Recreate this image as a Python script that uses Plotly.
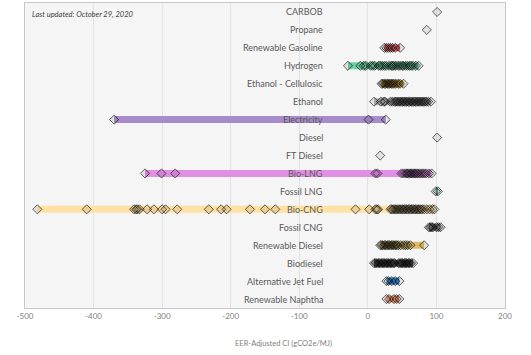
import plotly.graph_objects as go

# ---- data (EER-adjusted CI, gCO2e/MJ) ----
categories = ["CARBOB", "Propane", "Renewable Gasoline", "Hydrogen", "Ethanol - Cellulosic",
              "Ethanol", "Electricity", "Diesel", "FT Diesel", "Bio-LNG", "Fossil LNG",
              "Bio-CNG", "Fossil CNG", "Renewable Diesel", "Biodiesel",
              "Alternative Jet Fuel", "Renewable Naphtha"]

carbob = [101]
propane = [86]
renewable_gasoline = [24, 27, 30, 33, 36, 40, 47]
hydrogen = [-29, -11, -6, -3, 4, 7, 10, 16, 18, 21, 24, 27, 31, 34, 36, 38, 41, 44, 47, 50,
            52, 55, 58, 61, 63, 66, 70, 74]
ethanol_cellulosic = [20, 22, 24, 26, 28, 30, 32, 34, 36, 38, 41, 44, 47, 52]
ethanol = [9, 19, 23, 25, 33, 36, 39, 41, 43, 45, 47, 49, 51, 53, 55, 57, 59, 61, 63, 65, 67,
           69, 71, 73, 75, 77, 79, 81, 83, 85, 88, 92]
electricity = [-370, 1, 26]
diesel = [101]
ft_diesel = [18]
bio_lng = [-325, -301, -281, 11, 14, 49, 52, 55, 57, 59, 61, 63, 65, 67, 69, 71, 73, 76, 79,
           82, 85, 89, 93]
fossil_lng = [99, 102]
bio_cng = [-482, -410, -341, -338, -336, -333, -322, -312, -300, -295, -278, -232, -214, -206,
           -172, -150, -135, -18, 2, 11, 13, 15, 33, 35, 37, 39, 41, 43, 45, 47, 49, 51, 53, 55,
           57, 59, 61, 63, 65, 67, 69, 71, 73, 75, 77, 79, 82, 86, 90, 94, 97]
fossil_cng = [89, 91, 93, 95, 100, 103, 106]
renewable_diesel = [18, 20, 22, 24, 26, 28, 30, 32, 34, 36, 38, 40, 42, 44, 48, 52, 55, 58, 62, 82]
biodiesel = [9, 11, 13, 15, 17, 19, 21, 23, 25, 27, 29, 31, 33, 35, 37, 39, 45, 47, 49, 51, 53,
             55, 57, 59, 61, 63, 66]
alt_jet_fuel = [27, 30, 35, 40, 46]
renewable_naphtha = [27, 31, 38, 42, 46]

series = [carbob, propane, renewable_gasoline, hydrogen, ethanol_cellulosic, ethanol,
          electricity, diesel, ft_diesel, bio_lng, fossil_lng, bio_cng, fossil_cng,
          renewable_diesel, biodiesel, alt_jet_fuel, renewable_naphtha]

band_colors = [None, None, "#e46d6d", "#6fd3a3", "#c9a43c", "#b5b5b5", "#a88bca", None, None,
               "#df90e2", "#2e9d72", "#ffe1a3", "#8a8a8a", "#d9bd6a", "#6a6a6a",
               "#3a87c9", "#ef9c75"]

x_ticks = [-500, -400, -300, -200, -100, 0, 100, 200]
x_tick_labels = ["-500", "-400", "-300", "-200", "-100", "0", "100", "200"]

fig = go.Figure()

for i, (vals, col) in enumerate(zip(series, band_colors)):
    if col is not None and len(vals) > 1:
        fig.add_trace(go.Scatter(
            x=[min(vals), max(vals)], y=[i, i], mode="lines",
            line=dict(color=col, width=7), hoverinfo="skip", showlegend=False))
    fig.add_trace(go.Scatter(
        x=vals, y=[i] * len(vals), mode="markers", showlegend=False,
        marker=dict(symbol="diamond", size=7,
                    color="rgba(0,0,0,0.08)",
                    line=dict(color="rgba(0,0,0,0.6)", width=1))))

for i, name in enumerate(categories):
    fig.add_annotation(x=-63, y=i, xref="x", yref="y", text=name, showarrow=False,
                       xanchor="right", yanchor="middle",
                       font=dict(family="Lato", size=9, color="#595959"))

fig.add_annotation(x=0.01, y=0.985, xref="paper", yref="paper", xanchor="left", yanchor="top",
                   text="<i>Last updated: October 29, 2020</i>", showarrow=False,
                   font=dict(family="Lato", size=7.5, color="#404040"))

fig.add_annotation(x=0.5375, y=-0.095, xref="paper", yref="paper", xanchor="center",
                   yanchor="top", text="EER-Adjusted CI (gCO2e/MJ)", showarrow=False,
                   font=dict(family="Lato", size=7.5, color="#7f7f7f"))

fig.update_layout(
    width=531, height=355,
    margin=dict(l=25, r=26, t=3, b=47),
    paper_bgcolor="white", plot_bgcolor="#f5f5f6",
    xaxis=dict(range=[-500, 200], tickvals=x_ticks, ticktext=x_tick_labels,
               showgrid=True, gridcolor="#e2e2e4", gridwidth=1, zeroline=False,
               showline=True, linecolor="#c8c8c8", mirror=True,
               tickfont=dict(family="Lato", size=8, color="#808080"), ticks="",
               ticklen=0),
    yaxis=dict(range=[16.5, -0.5], showticklabels=False, showgrid=False, zeroline=False,
               showline=True, linecolor="#c8c8c8", mirror=True),
)

fig.write_html("out.html", config={"displayModeBar": False},
               post_script="document.body.style.margin='0';document.body.style.overflow='hidden';")
